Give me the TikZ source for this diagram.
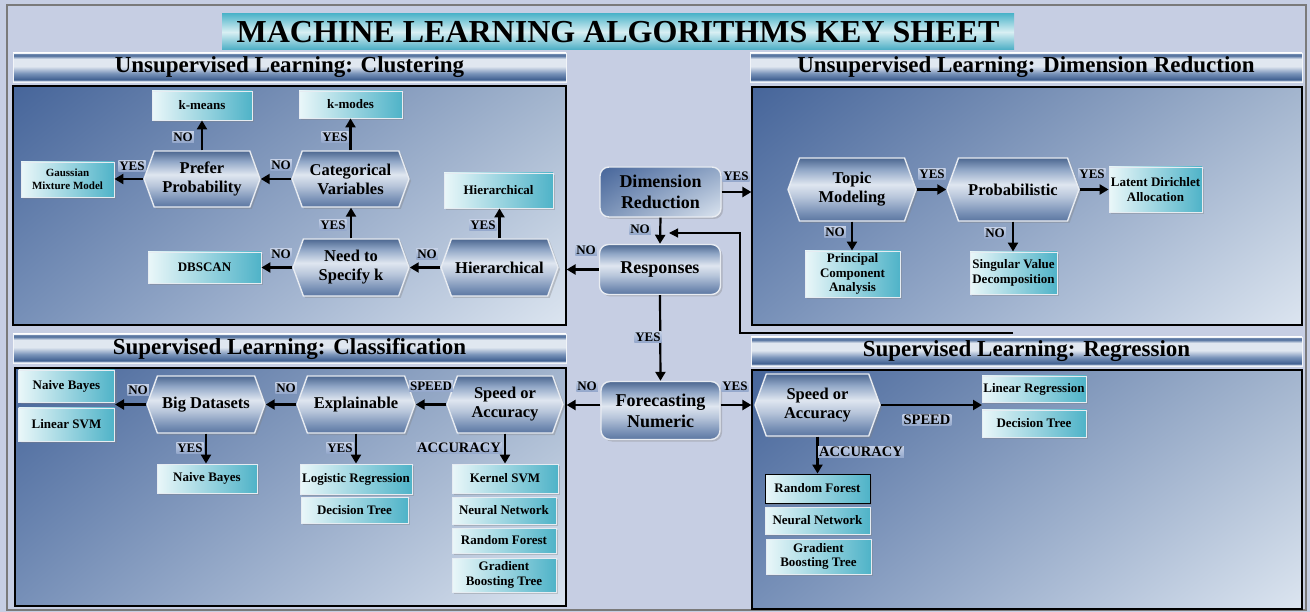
\documentclass[tikz,border=0pt]{standalone}
\usepackage{fontspec}
\setmainfont{Liberation Serif}
\usetikzlibrary{arrows.meta,shapes.symbols,shadows,shadings}
\definecolor{bgc}{HTML}{C6CEE3}
\definecolor{frm}{HTML}{7A7A7A}
\definecolor{ttop}{HTML}{50B5CA}
\definecolor{tmid}{HTML}{D8EFF3}
\definecolor{tbot}{HTML}{49ADC4}
\definecolor{hdw}{HTML}{F2F5F9}
\definecolor{hdtop}{HTML}{5A77A2}
\definecolor{hdl2}{HTML}{E0E7F0}
\definecolor{hdd2}{HTML}{7A94BA}
\definecolor{hdd}{HTML}{3F5F90}
\definecolor{hdb}{HTML}{C9D4E4}
\definecolor{pul}{HTML}{46659A}
\definecolor{pur}{HTML}{A3B5CE}
\definecolor{pll}{HTML}{7790B8}
\definecolor{plr}{HTML}{DCE5F0}
\definecolor{hx6}{HTML}{4C6790}
\definecolor{hx5}{HTML}{90A6C6}
\definecolor{hx4}{HTML}{DFE6F0}
\definecolor{hx3}{HTML}{B7C5DA}
\definecolor{hx2}{HTML}{7A92B7}
\definecolor{hx1}{HTML}{5B76A1}
\definecolor{hexbd}{HTML}{E8ECF2}
\definecolor{rl}{HTML}{EAF7F9}
\definecolor{rr}{HTML}{4FB3C8}
\definecolor{rbd}{HTML}{E6ECF2}
\definecolor{lt}{HTML}{C4D0E6}
\definecolor{lb}{HTML}{93A7CB}
\pgfdeclareverticalshading{hdrsh}{100bp}{color(0bp)=(hdb); color(25bp)=(hdb); color(27bp)=(hdb); color(29bp)=(hdd); color(40bp)=(hdd2); color(52bp)=(hdl2); color(65bp)=(hdl2); color(70bp)=(hdtop); color(73bp)=(hdtop); color(75bp)=(hdw); color(100bp)=(hdw)}
\pgfdeclareverticalshading{hexsh}{100bp}{color(0bp)=(hx1); color(25bp)=(hx1); color(32bp)=(hx2); color(44bp)=(hx3); color(54bp)=(hx4); color(66bp)=(hx5); color(75bp)=(hx6); color(100bp)=(hx6)}
\newcommand{\ftitle}{\fontsize{32}{36}\selectfont\bfseries}
\newcommand{\fhead}{\fontsize{23}{26}\selectfont\bfseries}
\newcommand{\fctr}{\fontsize{18}{21}\selectfont\bfseries}
\newcommand{\fhex}{\fontsize{16.5}{19}\selectfont\bfseries}
\newcommand{\fres}{\fontsize{13}{14.5}\selectfont\bfseries}
\newcommand{\fsml}{\fontsize{11}{13}\selectfont\bfseries}
\newcommand{\flab}{\fontsize{13}{14}\selectfont\bfseries}
\newcommand{\flabb}{\fontsize{14.5}{16}\selectfont\bfseries}
\begin{document}
\begin{tikzpicture}[x=1pt,y=-1pt,
  wh/.style 2 args={minimum width=#1pt, minimum height=#2pt},
  shd/.style={drop shadow={shadow xshift=2pt,shadow yshift=-2pt,opacity=0.35}},
  ttl/.style={inner sep=0pt, top color=ttop, bottom color=tbot, middle color=tmid, font=\ftitle},
  hdr/.style={inner sep=0pt, shade, shading=hdrsh, draw=hdw, line width=0.8pt, font=\fhead},
  pnl/.style={inner sep=0pt, upper left=pul, upper right=pur, lower left=pll, lower right=plr, draw=black, line width=1.2pt},
  hexn/.style={shape=signal, signal to=west and east, signal pointer angle=140, inner sep=0pt,
     shade, shading=hexsh, draw=hexbd, line width=1.4pt, font=\fhex, align=center, shd},
  ctr/.style={rectangle, rounded corners=9pt, inner sep=0pt, draw=hexbd, line width=1.4pt, font=\fctr, align=center, shd},
  res/.style={rectangle, inner sep=0pt, draw=rbd, line width=0.9pt, left color=rl, right color=rr, font=\fres, align=center, shd},
  lab/.style={inner sep=1pt, top color=lt, bottom color=lb, font=\flab},
  arr/.style={line width=2.2pt, -{Triangle[length=9pt,width=10pt]}},
  fbarr/.style={line width=1.2pt, -{Triangle[length=9pt,width=9pt]}}
]
\useasboundingbox (0,0) rectangle (1310,612);
\fill[bgc] (0,0) rectangle (1310,612);
\draw[frm, line width=1.2pt] (7,5) rectangle (1306,610);

% title
\node[ttl, wh={792}{36}] (title) at (618,32) {MACHINE LEARNING ALGORITHMS KEY SHEET};

% headers
\node[hdr, wh={553}{29}] (hclu) at (289.5,67.5) {Unsupervised Learning: Clustering};
\node[hdr, wh={552}{29}] (hdim) at (1026,67.5) {Unsupervised Learning: Dimension Reduction};
\node[hdr, wh={553}{29}] (hcls) at (289.5,348.5) {Supervised Learning: Classification};
\node[hdr, wh={551}{29}] (hreg) at (1026.5,351.5) {Supervised Learning: Regression};

% panels
\node[pnl, wh={553}{239}] (clp) at (289.5,205.5) {};
\node[pnl, wh={550}{238}] (dimp) at (1027,206) {};
\node[pnl, wh={551}{238}] (clsp) at (290.5,487) {};
\node[pnl, wh={550}{239}] (regp) at (1027,489.5) {};

% center column
\node[ctr, wh={121}{50}, upper left=pul, lower right=plr, upper right=hx5, lower left=hx2] (dimred) at (660.5,192) {Dimension\\Reduction};
\node[ctr, wh={121}{50}, shade, shading=hexsh] (resp) at (660,269.5) {Responses};
\node[ctr, wh={119}{58}, shade, shading=hexsh] (fore) at (660.5,410.5) {Forecasting\\Numeric};

% clustering
\node[res, wh={100}{29}] (kmeans) at (202,105.5) {k-means};
\node[res, wh={103}{27}] (kmodes) at (350.5,104.5) {k-modes};
\node[hexn, wh={116}{56}] (prefer) at (202,179) {Prefer\\Probability};
\node[hexn, wh={117}{56}] (categ) at (350.5,179) {Categorical\\Variables};
\node[res, wh={93}{35}, font=\fsml] (gmm) at (67.5,179.5) {Gaussian\\Mixture Model};
\node[res, wh={109}{35}] (hierbox) at (498.5,190.5) {Hierarchical};
\node[hexn, wh={116}{57}] (needk) at (351,267.5) {Need to\\Specify k};
\node[hexn, wh={117}{57}] (hierhex) at (499.5,267.5) {Hierarchical};
\node[res, wh={113}{31}] (dbscan) at (204.5,267.5) {DBSCAN};

% dimension reduction
\node[hexn, wh={128}{63}] (topic) at (852,189.5) {Topic\\Modeling};
\node[hexn, wh={132}{63}] (prob) at (1013,189.5) {Probabilistic};
\node[res, wh={93}{45}] (lda) at (1155.5,189.5) {Latent Dirichlet\\Allocation};
\node[res, wh={95}{46}] (pca) at (852.5,274) {Principal\\Component\\Analysis};
\node[res, wh={87}{42}] (svd) at (1013.5,273) {Singular Value\\Decomposition};

% classification
\node[res, wh={96}{32}] (nb1) at (66.5,386) {Naive Bayes};
\node[res, wh={96}{33}] (lsvm) at (66.5,424.5) {Linear SVM};
\coordinate (cl) at (115,404.5);
\node[hexn, wh={118}{57}] (big) at (206,404.5) {Big Datasets};
\node[hexn, wh={118}{57}] (expl) at (356,404.5) {Explainable};
\node[hexn, wh={116}{57}] (speedc) at (505,404.5) {Speed or\\Accuracy};
\node[res, wh={100}{29}] (nb2) at (207,478.5) {Naive Bayes};
\node[res, wh={112}{30}] (logreg) at (356,479) {Logistic Regression};
\node[res, wh={107}{26}] (dtc) at (354.5,510) {Decision Tree};
\node[res, wh={106}{29}] (ksvm) at (505,478.5) {Kernel SVM};
\node[res, wh={104}{27}] (nnc) at (504,510.5) {Neural Network};
\node[res, wh={104}{25}] (rfc) at (504,540.5) {Random Forest};
\node[res, wh={104}{34}] (gbtc) at (504,575) {Gradient\\Boosting Tree};

% regression
\node[hexn, wh={125}{62}] (speedr) at (817.5,405) {Speed or\\Accuracy};
\coordinate (rs) at (982,405);
\node[res, wh={104}{26}] (linreg) at (1034,389) {Linear Regression};
\node[res, wh={104}{27}] (dtr) at (1034,423.5) {Decision Tree};
\node[res, wh={105}{29}, draw=black] (rfr) at (817.5,488.5) {Random Forest};
\node[res, wh={105}{27}] (nnr) at (817.5,520.5) {Neural Network};
\node[res, wh={105}{35}] (gbtr) at (818.5,556.5) {Gradient\\Boosting Tree};

% connectors: center
\draw[arr] (dimred.east) -- (dimred.east -| dimp.west);
\draw[arr] (dimred.south) -- (resp.north);
\draw[arr] (resp.west) -- (resp.west -| clp.east);
\draw[arr] (resp.south) -- (fore.north);
\draw[arr] ([yshift=5.5pt]fore.west) -- ([yshift=5.5pt]fore.west -| clsp.east);
\draw[arr] ([yshift=5.5pt]fore.east) -- ([yshift=5.5pt]fore.east -| regp.west);
\coordinate (fb) at (1013,333);
\coordinate (fbc) at (740,233);
\coordinate (fbt) at (669,233);
\draw[fbarr] (fb) -| (fbc) -- (fbt);

% connectors: clustering
\draw[arr] (prefer.north) -- (prefer.north |- kmeans.south);
\draw[arr] (categ.north) -- (categ.north |- kmodes.south);
\draw[arr] (prefer.west) -- (prefer.west -| gmm.east);
\draw[arr] (categ.west) -- (prefer.east);
\draw[arr] (needk.north) -- (needk.north |- categ.south);
\draw[arr] (hierhex.north) -- (hierhex.north |- hierbox.south);
\draw[arr] (hierhex.west) -- (needk.east);
\draw[arr] (needk.west) -- (needk.west -| dbscan.east);

% connectors: dimension reduction
\draw[arr] (topic.east) -- (prob.west);
\draw[arr] (prob.east) -- (prob.east -| lda.west);
\draw[arr] (topic.south) -- (topic.south |- pca.north);
\draw[arr] (prob.south) -- (prob.south |- svd.north);

% connectors: classification
\draw[arr] (speedc.west) -- (expl.east);
\draw[arr] (expl.west) -- (big.east);
\draw[arr] (big.west) -- (cl);
\draw[arr] (big.south) -- (big.south |- nb2.north);
\draw[arr] (expl.south) -- (expl.south |- logreg.north);
\draw[arr] (speedc.south) -- (speedc.south |- ksvm.north);

% connectors: regression
\draw[arr] (speedr.east) -- (rs);
\draw[arr] (speedr.south) -- (speedr.south |- rfr.north);

% labels
\node[lab] (l1) at (183,137) {NO};
\node[lab] (l2) at (335,137) {YES};
\node[lab] (l3) at (132,166) {YES};
\node[lab] (l4) at (281,165) {NO};
\node[lab] (l5) at (333,225) {YES};
\node[lab] (l6) at (483,225) {YES};
\node[lab] (l7) at (427,254) {NO};
\node[lab] (l8) at (281,254) {NO};
\node[lab] (l9) at (586,250) {NO};
\node[lab] (l10) at (736,176) {YES};
\node[lab] (l11) at (640,229) {NO};
\node[lab] (l12) at (648,337) {YES};
\node[lab] (l13) at (587,386) {NO};
\node[lab] (l14) at (735,386) {YES};
\node[lab] (l15) at (932,174) {YES};
\node[lab] (l16) at (1092,174) {YES};
\node[lab] (l17) at (835,232) {NO};
\node[lab] (l18) at (995,233) {NO};
\node[lab] (l19) at (431,386) {SPEED};
\node[lab] (l20) at (286,388) {NO};
\node[lab] (l21) at (138,390) {NO};
\node[lab] (l22) at (190,448) {YES};
\node[lab] (l23) at (340,448) {YES};
\node[lab, font=\flabb] (l24) at (459,448) {ACCURACY};
\node[lab, font=\flabb] (l25) at (927,420) {SPEED};
\node[lab, font=\flabb] (l26) at (861,452) {ACCURACY};
\end{tikzpicture}
\end{document}
